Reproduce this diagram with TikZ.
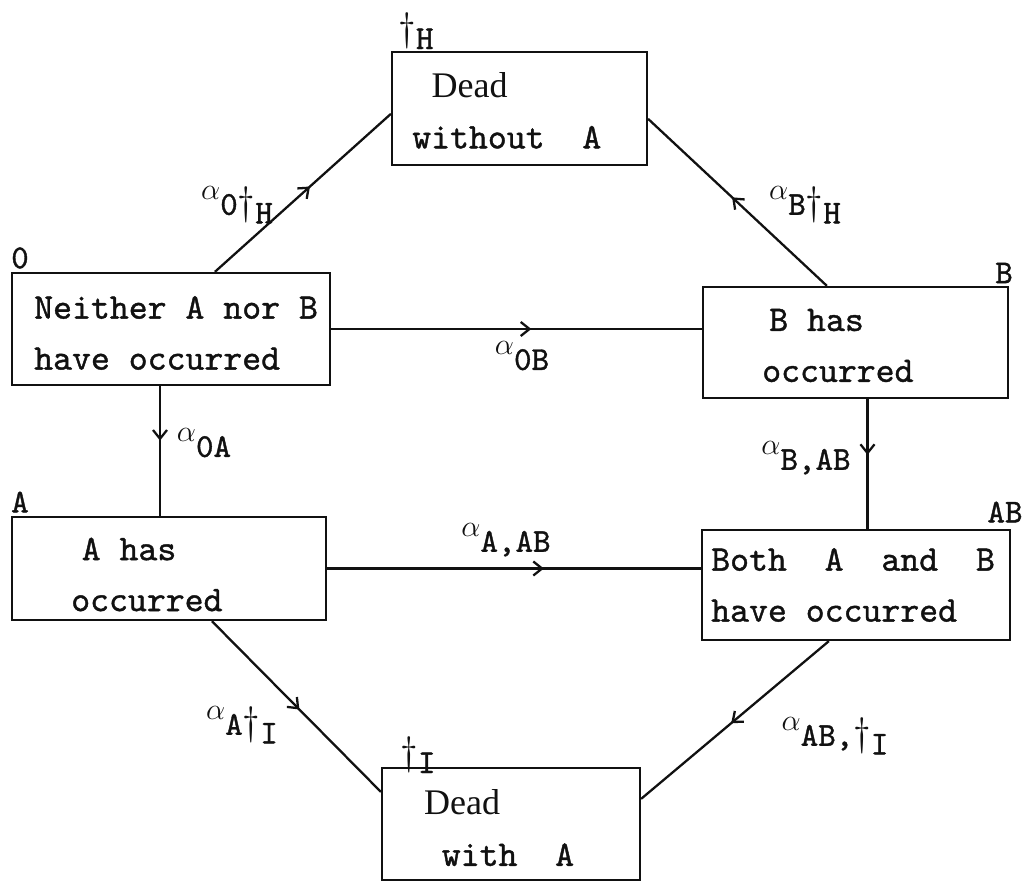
\documentclass[tikz,border=0pt]{standalone}
\usepackage{fontspec}
\usepackage{graphicx}
\setmainfont{lmmono10-regular.otf}[FakeBold=1.1]
\newfontfamily\deadfont{Liberation Serif}
\usetikzlibrary{positioning, calc, arrows.meta, decorations.markings}
\definecolor{inkBlack}{HTML}{111111}

% rate symbol: small raised alpha, then the subscript text
\newcommand{\rateof}[1]{\raisebox{0.7ex}{\fontsize{16}{16}\selectfont$\alpha$}\raisebox{-0.35ex}{#1}}
\newcommand{\lowsub}[1]{\raisebox{-0.6ex}{#1}}
\newcommand{\dg}{\scalebox{1.3}{$\dagger$}}

\tikzset{
  statebox/.style={draw=inkBlack, line width=1.3pt, inner sep=0pt},
  boxtext/.style={align=left, inner sep=0pt, text=inkBlack,
    font=\fontsize{20.5}{29}\selectfont},
  tag/.style={inner sep=0pt, text=inkBlack, font=\fontsize{19}{20}\selectfont},
  ratelabel/.style={inner sep=0pt, text=inkBlack, font=\fontsize{19}{20}\selectfont},
  flow/.style={draw=inkBlack, line width=1.3pt},
  midarrow/.style={postaction={decorate},
    decoration={markings, mark=at position #1 with
      {\arrow{Straight Barb[length=5pt, width=8pt, line width=1.3pt]}}}}
}

\begin{document}
\begin{tikzpicture}[x=0.02cm, y=-0.02cm]
  \useasboundingbox (0,0) rectangle (1025,885);

  % states
  \node[statebox, minimum width=6.36cm, minimum height=2.24cm] (none) at (171,329) {};
  \node[statebox, minimum width=5.10cm, minimum height=2.26cm] (deadH) at (519.5,108.5) {};
  \node[statebox, minimum width=6.10cm, minimum height=2.22cm] (onlyB) at (855.5,342.5) {};
  \node[statebox, minimum width=6.28cm, minimum height=2.06cm] (onlyA) at (169,568.5) {};
  \node[statebox, minimum width=6.16cm, minimum height=2.20cm] (both) at (856,585) {};
  \node[statebox, minimum width=5.16cm, minimum height=2.24cm] (deadI) at (511,824) {};

  % texts inside the states
  \node[boxtext, anchor=west] (noneText) at ($(none.west)+(23,4)$)
    {Neither A nor B\\have occurred};
  \node[boxtext, anchor=west] (deadHText) at ($(deadH.west)+(21,2)$)
    {\hspace*{11pt}{\deadfont Dead}\\without~~A};
  \node[boxtext, anchor=west] (onlyBText) at ($(onlyB.west)+(60,3)$)
    {\hspace*{4pt}B has\\occurred};
  \node[boxtext, anchor=west] (onlyAText) at ($(onlyA.west)+(60,6)$)
    {\hspace*{6pt}A has\\occurred};
  \node[boxtext, anchor=west] (bothText) at ($(both.west)+(10,0)$)
    {Both~~A~~and~~B\\have occurred};
  \node[boxtext, anchor=west] (deadIText) at ($(deadI.west)+(43,4)$)
    {{\deadfont Dead}\\\hspace*{10pt}with~~A};

  % state names
  \node[tag] (tagNone) at (20,258) {0};
  \node[tag] (tagH) at (416,31) {\dg\lowsub{H}};
  \node[tag] (tagB) at (1004,273) {B};
  \node[tag] (tagA) at (20,502) {A};
  \node[tag] (tagAB) at (1005,512) {AB};
  \node[tag] (tagI) at (418,755) {\dg\lowsub{I}};

  % transitions
  \draw[flow, midarrow=0.54] ($(none.north west)+(204,0)$) -- ($(deadH.north west)+(0,63)$);
  \draw[flow, midarrow=0.53] ($(onlyB.north west)+(125,0)$) -- ($(deadH.north east)+(0,68)$);
  \draw[flow, midarrow=0.54] (none.east) -- (none.east -| onlyB.west);
  \draw[flow, midarrow=0.42] ($(none.south)+(-11,0)$) coordinate (noneDown) -- (noneDown |- onlyA.north);
  \draw[flow, midarrow=0.43] ($(onlyB.south)+(12,0)$) coordinate (bDown) -- (bDown |- both.north);
  \draw[flow, midarrow=0.58] (onlyA.east) -- (onlyA.east -| both.west);
  \draw[flow, midarrow=0.52] ($(onlyA.south west)+(201,0)$) -- ($(deadI.north west)+(0,25)$);
  \draw[flow, midarrow=0.52] ($(both.south west)+(128,0)$) -- ($(deadI.north east)+(0,32)$);

  % intensities
  \node[ratelabel] (rNoneH) at (237,205) {\rateof{0\dg\lowsub{H}}};
  \node[ratelabel] (rBH) at (805,205) {\rateof{B\dg\lowsub{H}}};
  \node[ratelabel] (rNoneB) at (522,356) {\rateof{0B}};
  \node[ratelabel] (rNoneA) at (204,443) {\rateof{0A}};
  \node[ratelabel] (rBBoth) at (806,458) {\rateof{B,AB}};
  \node[ratelabel] (rABoth) at (506,540) {\rateof{A,AB}};
  \node[ratelabel] (rAI) at (242,725) {\rateof{A\dg\lowsub{I}}};
  \node[ratelabel] (rBothI) at (835,736) {\rateof{AB,\dg\lowsub{I}}};
\end{tikzpicture}
\end{document}
